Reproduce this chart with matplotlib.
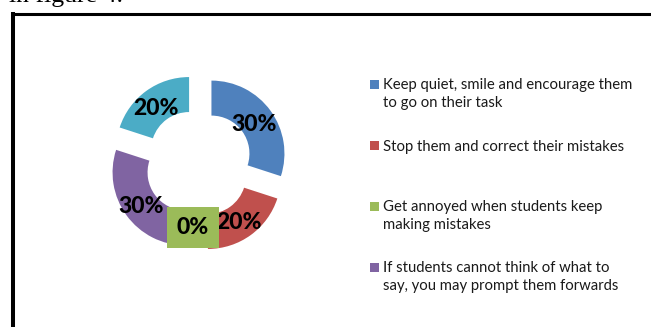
import matplotlib
matplotlib.use('Agg')
import matplotlib.pyplot as plt
from matplotlib.patches import Rectangle

W, H = 651, 327

# survey answers: share of teachers choosing each reaction
shares = [30, 20, 0, 30, 20]
colors = ['#4F81BD', '#C0504D', '#9BBB59', '#8064A2', '#4BACC6']
legend_lines = [
    ['Keep quiet, smile and encourage them', 'to go on their task'],
    ['Stop them and correct their mistakes'],
    ['Get annoyed when students keep', 'making mistakes'],
    ['If students cannot think of what to', 'say, you may prompt them forwards'],
]

fig = plt.figure(figsize=(W / 100, H / 100), dpi=100)
ax = fig.add_axes([0, 0, 1, 1])


def py(y):
    # image rows run downwards, axes y runs upwards
    return H - y


radius = 73
wedges, texts, pcts = ax.pie(
    shares, colors=colors, radius=radius, center=(198.5, py(163)),
    startangle=90, counterclock=False, explode=[16] * len(shares),
    wedgeprops=dict(width=35, linewidth=0),
    autopct=lambda p: f'{p:.0f}%', pctdistance=0.74,
    textprops=dict(family='Lato', fontweight='black', fontsize=16.5,
                   color='black'))

for val, col, t in zip(shares, colors, pcts):
    x, y = t.get_position()
    if val == 0:
        # empty slice: label sits in its own coloured box
        t.set_bbox(dict(facecolor=col, edgecolor='none', pad=7))
        t.set_position((x - 5.5, y + 5.5))
    else:
        t.set_position((x - 1, y - 2.5))

ax.set_xlim(0, W)
ax.set_ylim(0, H)
ax.set_aspect('equal')
ax.axis('off')

# legend drawn by hand so the wrapped entries sit where they belong
baselines = [[89, 107], [150.5], [211, 229], [272, 290]]
for col, lines, bases in zip(colors, legend_lines, baselines):
    ax.add_patch(Rectangle((370, py(bases[0] - 0.5)), 9, 9, facecolor=col,
                           edgecolor='none'))
    for line, b in zip(lines, bases):
        ax.text(383, py(b), line, family='Lato', fontsize=10.7, va='baseline',
                ha='left', color='#1a1a1a')

# frame around the chart and the caption line above it
ax.plot([13, W + 5], [py(13.5), py(13.5)], color='black', lw=2.2,
        solid_capstyle='butt')
ax.plot([13, 13], [py(12), py(H + 5)], color='black', lw=2.9,
        solid_capstyle='butt')
ax.text(9, py(2), 'in figure 4.', family='Liberation Serif', fontsize=18.5,
        va='baseline', ha='left', color='black')

fig.savefig('out.png', dpi=100)
